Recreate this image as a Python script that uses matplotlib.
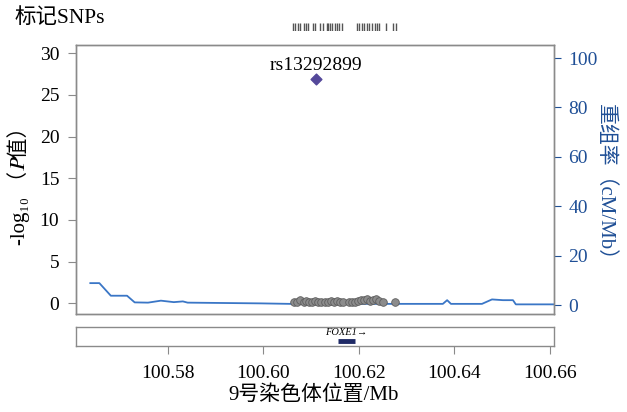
import matplotlib
matplotlib.use("Agg")
import matplotlib.pyplot as plt

plt.rcParams['font.family'] = ['Liberation Serif', 'Noto Sans CJK SC']

# ---- data ----
snp_pos = [100.6063, 100.6071, 100.6077, 100.6084, 100.6090, 100.6096, 100.6102,
           100.6109, 100.6115, 100.6121, 100.6130, 100.6136, 100.6142, 100.6148,
           100.6155, 100.6161, 100.6167, 100.6180, 100.6186, 100.6192, 100.6199,
           100.6205, 100.6211, 100.6217, 100.6224, 100.6230, 100.6236, 100.6243,
           100.6251, 100.6276]
snp_logp = [0.1, 0.15, 0.35, 0.2, 0.3, 0.2, 0.15, 0.25, 0.2, 0.1, 0.2, 0.15, 0.3,
            0.2, 0.25, 0.15, 0.1, 0.1, 0.2, 0.15, 0.3, 0.4, 0.35, 0.45, 0.3, 0.4,
            0.45, 0.3, 0.2, 0.2]
lead_snp = "rs13292899"
lead_pos = 100.6111
lead_logp = 26.9

recomb_pos = [100.5637, 100.5656, 100.5680, 100.5714, 100.5730, 100.5758, 100.5785,
              100.5812, 100.5831, 100.5841, 100.5994, 100.6056, 100.6376, 100.6385,
              100.6393, 100.6458, 100.6479, 100.6502, 100.6523, 100.6529, 100.6609]
recomb_rate = [8.9, 8.9, 3.8, 3.8, 1.1, 1.0, 1.8, 1.2, 1.5, 1.0, 0.7, 0.5, 0.5, 2.0,
               0.5, 0.5, 2.3, 2.0, 2.0, 0.3, 0.3]

marker_pos = [100.6061, 100.6067, 100.6072, 100.6077, 100.6084, 100.6090, 100.6094,
              100.6103, 100.6107, 100.6118, 100.6125, 100.6133, 100.6136, 100.6140,
              100.6144, 100.6149, 100.6154, 100.6159, 100.6164, 100.6196, 100.6201,
              100.6206, 100.6211, 100.6216, 100.6221, 100.6227, 100.6233, 100.6238,
              100.6242, 100.6256, 100.6272, 100.6277]

gene_name = "FOXE1"
gene_start, gene_end = 100.6156, 100.6191

xticks = [100.58, 100.60, 100.62, 100.64, 100.66]
xticklabels = ["100.58", "100.60", "100.62", "100.64", "100.66"]
yticks_left = [0, 5, 10, 15, 20, 25, 30]
yticks_right = [0, 20, 40, 60, 80, 100]

XLIM = (100.5607, 100.6609)
spine_c = '#8a8a8a'
blue_dark = '#1f4f96'
blue_line = '#3a76c6'

fig = plt.figure(figsize=(6.27, 4.12), dpi=100)
W, H = 627, 412

def rect(l, t, r, b):
    return [l / W, 1 - b / H, (r - l) / W, (b - t) / H]

ax = fig.add_axes(rect(76, 45, 554, 314))
ax2 = ax.twinx()
axg = fig.add_axes(rect(76, 327, 554, 346))
axr = fig.add_axes(rect(76, 22.5, 554, 30.5))

# recombination line (right axis)
ax2.plot(recomb_pos, recomb_rate, color=blue_line, lw=1.3, zorder=1, clip_on=False)
ax2.set_ylim(-3.6, 105.3)
ax2.set_yticks(yticks_right)
ax2.tick_params(axis='y', colors=blue_dark, labelsize=14, length=5, width=0.8, pad=5.5)
for lab in ax2.get_yticklabels():
    lab.set_color(blue_dark)

# SNPs (left axis), drawn above line
ax.set_zorder(ax2.get_zorder() + 1)
ax.patch.set_visible(False)
ax.scatter(snp_pos, snp_logp, s=30, facecolor='#8c8c8c', edgecolor='#5e5e5e', lw=0.6, zorder=3)
ax.scatter([lead_pos], [lead_logp], marker='D', s=30, color='#54489a', zorder=4)
ax.text(lead_pos, lead_logp + 1.1, lead_snp, ha='center', va='baseline', fontsize=14)
ax.set_xlim(*XLIM)
ax.set_ylim(-1.3, 31.0)
ax.set_yticks(yticks_left)
ax.set_xticks([])
ax.tick_params(axis='y', labelsize=14, length=5.5, width=0.8, color=spine_c, pad=6.5)
for a in (ax, ax2):
    for s in a.spines.values():
        s.set_color(spine_c)
        s.set_linewidth(1.0)

# gene panel
axg.set_xlim(*XLIM)
axg.set_ylim(0, 1)
axg.plot([gene_start, gene_end], [0.28, 0.28], color='#1f2a66', lw=3.5, solid_capstyle='butt')
axg.text((gene_start + gene_end) / 2, 0.72, gene_name + "→", ha='center', va='center',
         fontsize=7.5, style='italic')
axg.set_yticks([])
axg.set_xticks(xticks)
axg.set_xticklabels(xticklabels)
axg.tick_params(axis='x', labelsize=14, length=6, width=0.8, color=spine_c, pad=8)
for s in axg.spines.values():
    s.set_color(spine_c)
    s.set_linewidth(1.0)

# marker rug
axr.set_xlim(*XLIM)
axr.set_ylim(0, 1)
axr.vlines(marker_pos, 0, 1, color='#555555', lw=1.0)
axr.axis('off')

# texts
fig.text(15 / W, 1 - 18 / H, "标记SNPs", fontsize=15.5, ha='left', va='center')
fig.text(314 / W, 1 - 395 / H, "9号染色体位置/Mb", fontsize=15, ha='center', va='center')
fig.text(605 / W, 1 - 188 / H, "重组率（cM/Mb）", fontsize=15, ha='center', va='center',
         rotation=270, color=blue_dark)
fig.text(25 / W, 1 - 245 / H, "-log\u2081\u2080 （\U0001D443值）", fontsize=15,
         family=['Liberation Serif', 'STIXGeneral', 'Noto Sans CJK SC'],
         rotation=90, rotation_mode='anchor', ha='left', va='baseline')

fig.savefig("out.png", dpi=100)
